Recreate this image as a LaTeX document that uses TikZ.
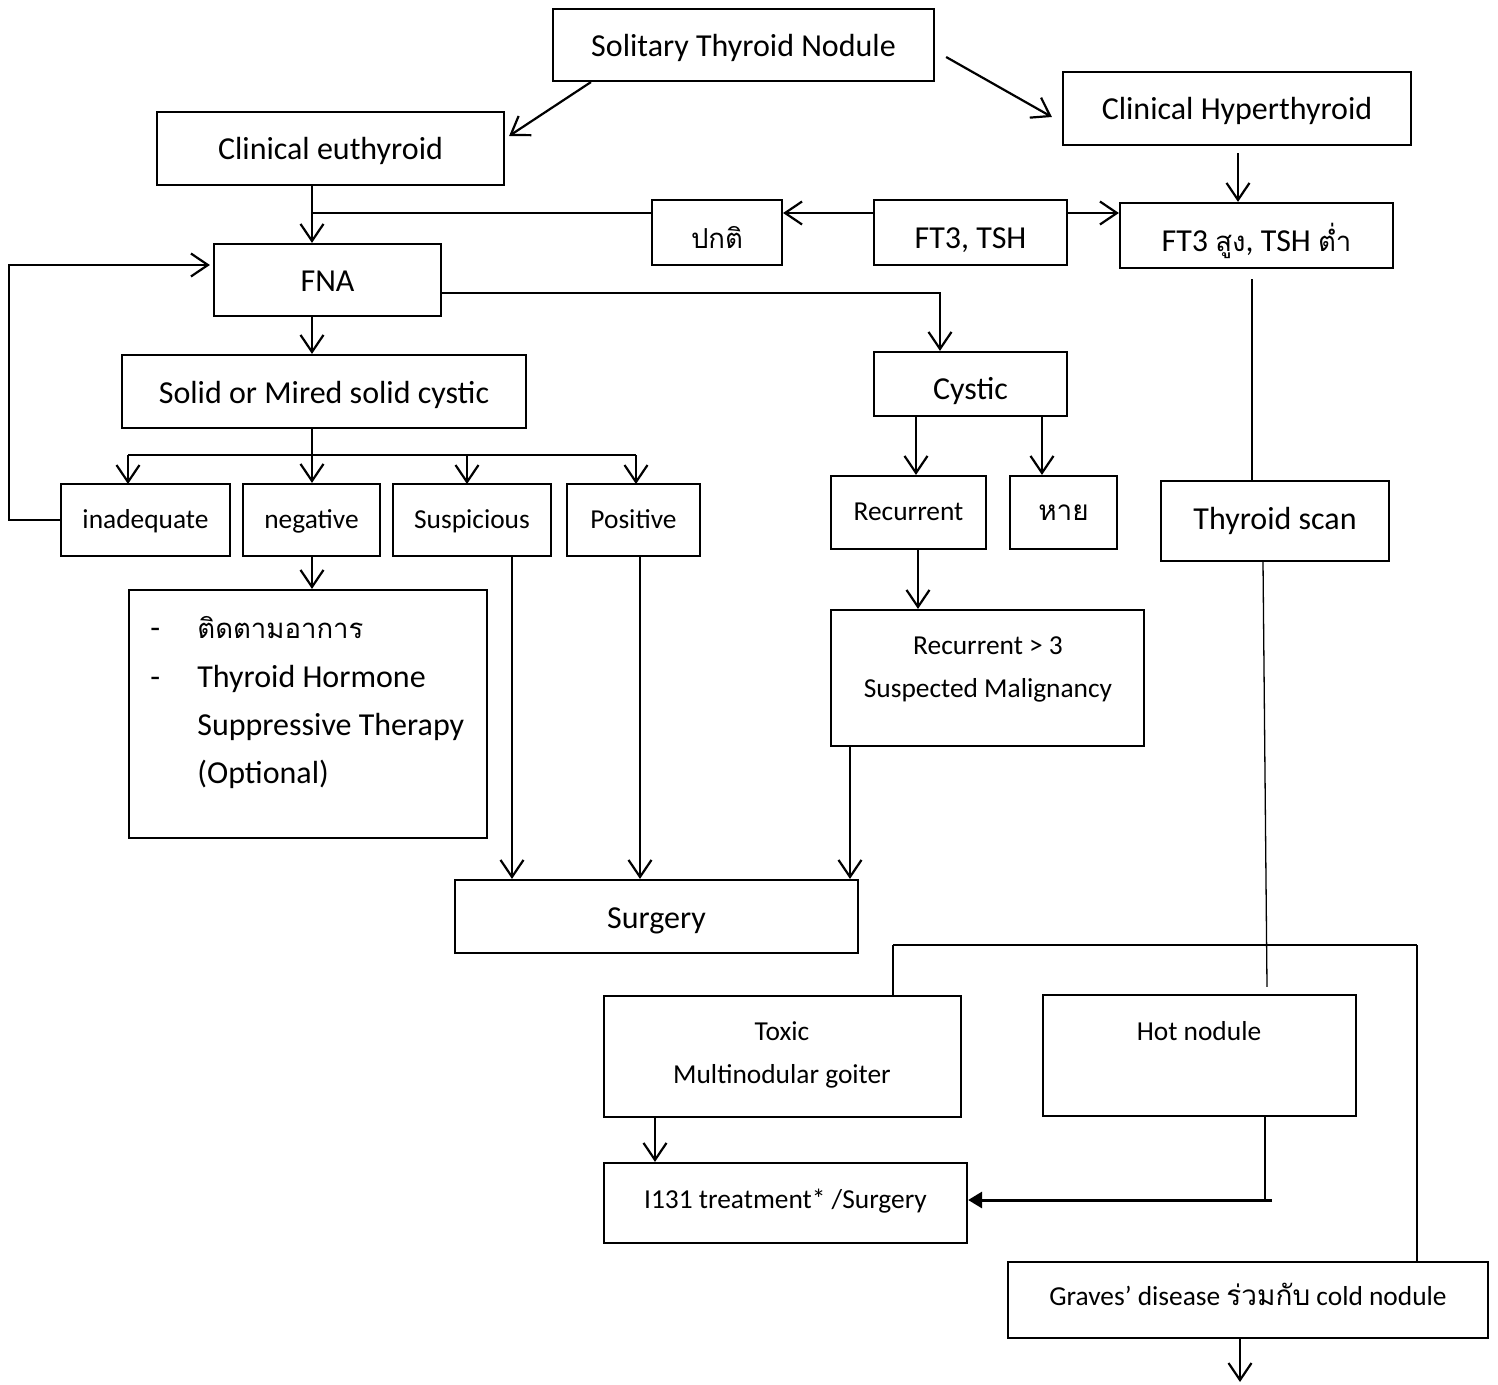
\documentclass[tikz,border=0pt]{standalone}
\usepackage{fontspec}
\setmainfont{Carlito}
\newfontfamily\thai[Script=Thai,Scale=0.86]{Loma}
\newfontfamily\thaism[Script=Thai,Scale=1.02]{Loma}
\usetikzlibrary{arrows.meta,calc}
\newcommand\fsbig{\fontsize{16}{18}\selectfont}
\newcommand\fssmall{\fontsize{13.7}{16}\selectfont}

\begin{document}
\begin{tikzpicture}[x=0.5pt,y=-0.5pt,
  box/.style={draw,line width=1.1pt,inner sep=0pt,align=center,font=\fsbig},
  sbox/.style={box,font=\fssmall},
  tb/.style={text height=#1,text depth=0pt},
  txt/.style={inner sep=0pt,font=\fsbig},
  stxt/.style={inner sep=0pt,font=\fssmall},
  link/.style={line width=1.1pt},
  thin/.style={line width=0.65pt},
  arr/.style={line width=1.1pt,-{Straight Barb[length=8.5pt,width=11.5pt]}},
  tri/.style={line width=1.5pt,-{Triangle[length=7pt,width=8pt]}}
]
\useasboundingbox (0,0) rectangle (1498,1385);
\fill[white] (0,0) rectangle (1498,1385);

% ---- boxes ----
\node[box,tb=12pt,minimum width=190.5pt,minimum height=36pt] (sol) at (743.5,45) {Solitary Thyroid Nodule};
\node[box,tb=11.5pt,minimum width=173.5pt,minimum height=36.5pt] (euth) at (330.5,148.5) {Clinical euthyroid};
\node[box,tb=11.5pt,minimum width=174pt,minimum height=36.5pt] (hyper) at (1237,108.5) {Clinical Hyperthyroid};
\node[box,tb=16.5pt,minimum width=65pt,minimum height=32.5pt] (normal) at (717,232.5) {\thai ปกติ};
\node[box,tb=16.5pt,minimum width=96.5pt,minimum height=32.5pt] (ft) at (970.5,232.5) {FT3, TSH};
\node[box,tb=16.5pt,minimum width=136.5pt,minimum height=32.5pt] (fthigh) at (1256.5,235.5) {FT3 {\thai สูง}, TSH {\thai ต่ำ}};
\node[box,tb=12pt,minimum width=113.5pt,minimum height=36pt] (fna) at (327.5,280) {FNA};
\node[box,tb=11.5pt,minimum width=202pt,minimum height=36.5pt] (solid) at (324,391.5) {Solid or Mired solid cystic};
\node[box,tb=16pt,minimum width=96.5pt,minimum height=32pt] (cystic) at (970.5,384) {Cystic};
\node[sbox,tb=8pt,minimum width=84.5pt,minimum height=36pt] (inad) at (145.5,520) {inadequate};
\node[sbox,tb=8pt,minimum width=68.5pt,minimum height=36pt] (neg) at (311.5,520) {negative};
\node[sbox,tb=8pt,minimum width=79pt,minimum height=36pt] (susp) at (472,520) {Suspicious};
\node[sbox,tb=8pt,minimum width=66.5pt,minimum height=36pt] (pos) at (633.5,520) {Positive};
\node[sbox,tb=8pt,minimum width=77.5pt,minimum height=36.5pt] (recur) at (908.5,512.5) {Recurrent};
\node[sbox,tb=8pt,minimum width=53.5pt,minimum height=36.5pt] (gone) at (1063.5,512.5) {\thaism หาย};
\node[box,tb=8pt,minimum width=114pt,minimum height=40pt] (scan) at (1275,521) {Thyroid scan};
\node[box,minimum width=179pt,minimum height=124pt] (follow) at (308,714) {};
\node[sbox,minimum width=156.5pt,minimum height=68pt] (rec3) at (987.5,678) {};
\node[box,tb=11.5pt,minimum width=201.5pt,minimum height=36.5pt] (surg) at (656.5,916.5) {Surgery};
\node[sbox,minimum width=178.5pt,minimum height=60.5pt] (toxic) at (782.5,1056.5) {};
\node[sbox,minimum width=156.5pt,minimum height=60.5pt] (hot) at (1199.5,1055.5) {};
\node[sbox,tb=5pt,minimum width=181.5pt,minimum height=40pt] (iodine) at (785.5,1203) {I131 treatment* /Surgery};
\node[sbox,tb=5pt,minimum width=240pt,minimum height=38pt] (graves) at (1248,1300) {Graves’ disease {\thaism ร่วมกับ} cold nodule};

% ---- texts set at the top of the taller boxes ----
\node[txt,anchor=base west] (dash1) at (150,638) {-};
\node[txt,anchor=base west] (lst1) at (197,638) {\thai ติดตามอาการ};
\node[txt,anchor=base west] (dash2) at (150,687) {-};
\node[txt,anchor=base west] (lst2) at (197,687) {Thyroid Hormone};
\node[txt,anchor=base west] (lst3) at (197,735) {Suppressive Therapy};
\node[txt,anchor=base west] (lst4) at (197,783) {(Optional)};
\node[stxt,anchor=base] (rec3a) at (988,654) {Recurrent > 3};
\node[stxt,anchor=base] (rec3b) at (988,697) {Suspected Malignancy};
\node[stxt,anchor=base] (toxa) at (782,1040) {Toxic};
\node[stxt,anchor=base] (toxb) at (782,1083) {Multinodular goiter};
\node[stxt,anchor=base] (hota) at (1199,1040) {Hot nodule};

% ---- top of the chart ----
\draw[arr] ($(sol.south west)+(39,0)$) -- ($(euth.east)+(4,-12.5)$);
\draw[arr] ($(sol.east)+(11,12)$) -- ($(hyper.west)+(-10,8.5)$);
\coordinate (hdrop) at ($(hyper.south)+(1,7)$);
\draw[arr] (hdrop) -- (hdrop |- fthigh.north);
\coordinate (trunk) at ($(fna.north)+(-15.5,0)$);
\draw[arr] (trunk |- euth.south) -- (trunk);
\coordinate (nleft) at ($(normal.west)+(0,-19.5)$);
\draw[link] (nleft) -- (trunk |- nleft);
\coordinate (fleft) at ($(ft.west)+(0,-19.5)$);
\coordinate (fright) at ($(ft.east)+(0,-19.5)$);
\draw[arr] (fleft) -- (normal.east |- fleft);
\draw[arr] (fright) -- (fthigh.west |- fright);
\coordinate (sdrop) at ($(fthigh.south)+(-4.5,10)$);
\draw[thin] (sdrop) -- (sdrop |- scan.north);

% ---- FNA ----
\draw[arr] (trunk |- fna.south) -- (trunk |- solid.north);
\draw[arr] ($(fna.east)+(0,13)$) -| ($(cystic.north)+(-30.5,0)$);
\draw[arr] (inad.west) -- ++(-51,0) |- ($(fna.west)+(-3,-15)$);

% ---- solid / mixed results ----
\coordinate (split) at (trunk |- 0,455);
\draw[link] (trunk |- solid.south) -- (split);
\draw[link] (128,455) -- (636,455);
\draw[arr] (128,455) -- (128,484);
\draw[arr] (split) -- (trunk |- neg.north);
\draw[arr] (467,455) -- (467,484);
\draw[arr] (636,455) -- (636,484);
\draw[arr] (trunk |- neg.south) -- (trunk |- follow.north);
\draw[arr] (512,556) -- (512,0 |- surg.north);
\draw[arr] (640,556) -- (640,0 |- surg.north);

% ---- cystic ----
\draw[arr] (916,416) -- (916,0 |- recur.north);
\draw[arr] (1042,416) -- (1042,0 |- gone.north);
\draw[arr] (918,0 |- recur.south) -- (918,0 |- rec3.north);
\draw[arr] (850,0 |- rec3.south) -- (850,0 |- surg.north);

% ---- thyroid scan ----
\draw[thin] ($(scan.south)+(-12,0)$) -- ($(hot.north)+(67.5,-7)$);
\draw[link] (893,945) -- (1417,945);
\draw[thin] (893,945) -- (893,0 |- toxic.north);
\draw[thin] (1417,945) -- (1417,0 |- graves.north);
\draw[arr] (655,0 |- toxic.south) -- (655,0 |- iodine.north);
\draw[line width=0.8pt] ($(hot.south)+(65.5,0)$) -- ++(0,84);
\draw[tri] (1272,1200) -- (iodine.east |- 0,1200);
\coordinate (gravesout) at (1240,1382);
\draw[arr] (1240,0 |- graves.south) -- (gravesout);
\end{tikzpicture}
\end{document}
